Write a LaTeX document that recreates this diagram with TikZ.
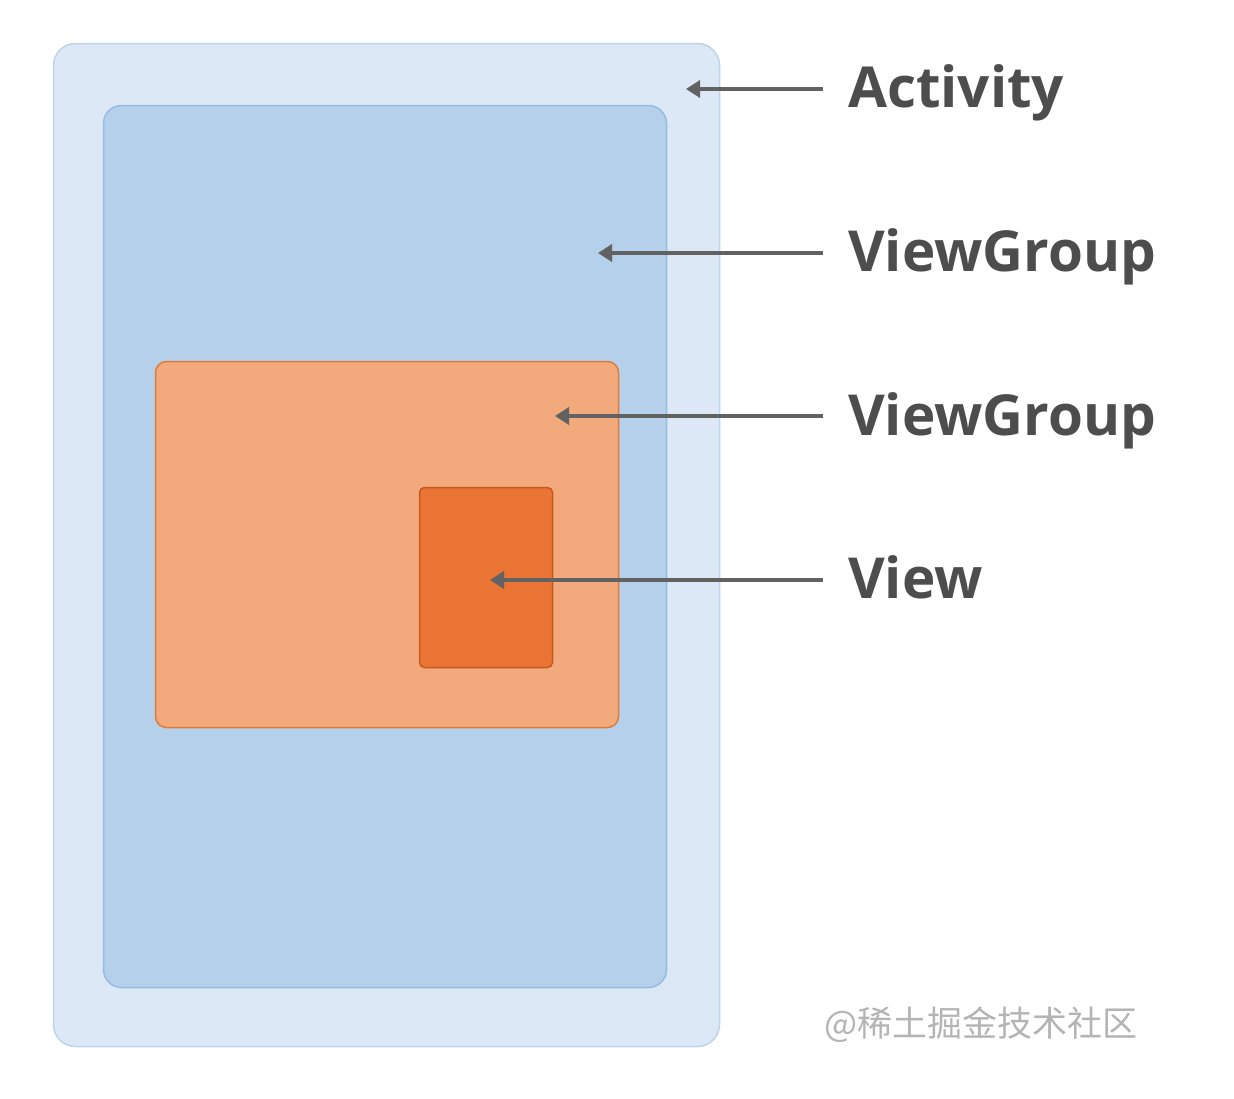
\documentclass[tikz,border=0pt]{standalone}
\usepackage{fontspec}
\setmainfont{Open Sans}
\newfontfamily\cjk{Noto Sans CJK SC}
\usetikzlibrary{arrows.meta}
\definecolor{actfill}{HTML}{DCE8F5}
\definecolor{actline}{HTML}{BDD4EC}
\definecolor{vgfill}{HTML}{B5D0EA}
\definecolor{vgline}{HTML}{98BCE0}
\definecolor{orfill}{HTML}{F2A97C}
\definecolor{orline}{HTML}{DE7A3A}
\definecolor{vfill}{HTML}{EA7433}
\definecolor{vline}{HTML}{C45A20}
\definecolor{txt}{HTML}{4D4D4D}
\definecolor{arr}{HTML}{626262}
\definecolor{wm}{HTML}{B4B4B4}
\tikzset{
  box/.style={rounded corners=#1, line width=1.5pt, inner sep=0pt, outer sep=0pt},
  lbl/.style={anchor=base west, inner sep=0pt, text=txt, font=\fontsize{56.5}{62}\selectfont\bfseries},
  pointer/.style={draw=arr, line width=4pt, -{Triangle[length=14pt,width=17pt]}}
}
\begin{document}
\begin{tikzpicture}[x=1pt,y=-1pt]
\useasboundingbox (0,0) rectangle (1234,1098);
\fill[white] (0,0) rectangle (1234,1098);
\node (act) [box=22pt, draw=actline, fill=actfill, minimum width=666pt, minimum height=1003pt] at (386.5,545) {};
\node (vg1) [box=18pt, draw=vgline, fill=vgfill, minimum width=563pt, minimum height=882pt] at (385,546.5) {};
\node (vg2) [box=11pt, draw=orline, fill=orfill, minimum width=463pt, minimum height=366pt] at (387,544.5) {};
\node (view) [box=5pt, draw=vline, fill=vfill, minimum width=133pt, minimum height=180pt] at (486,577.5) {};
\node (lA) [lbl] at (848,107) {Activity};
\node (lB) [lbl] at (848,271) {ViewGroup};
\node (lC) [lbl] at (848,435) {ViewGroup};
\node (lD) [lbl] at (848,598) {View};
\coordinate (sA) at (823,89);  \coordinate (tA) at (686,89);
\coordinate (sB) at (823,253); \coordinate (tB) at (598,253);
\coordinate (sC) at (823,416); \coordinate (tC) at (555,416);
\coordinate (sD) at (823,580); \coordinate (tD) at (490,580);
\draw[pointer] (sA) -- (tA);
\draw[pointer] (sB) -- (tB);
\draw[pointer] (sC) -- (tC);
\draw[pointer] (sD) -- (tD);
\node (wm) [anchor=west, inner sep=0pt, text=wm, font=\cjk\fontsize{35}{40}\selectfont] at (824,1025) {@稀土掘金技术社区};
\end{tikzpicture}
\end{document}
